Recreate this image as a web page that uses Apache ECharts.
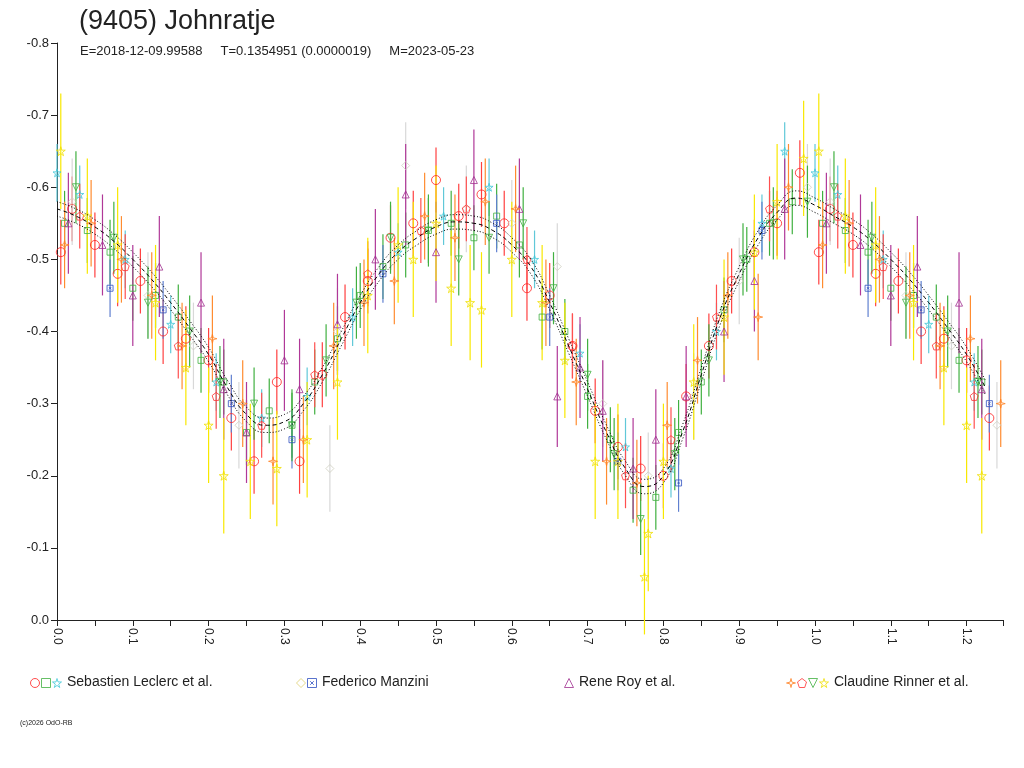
<!DOCTYPE html>
<html>
<head>
<meta charset="utf-8">
<script src="https://cdn.jsdelivr.net/npm/echarts@6/dist/echarts.min.js"></script>
<style>html,body{margin:0;padding:0;background:#fff;}#main{width:1024px;height:768px;}</style>
</head>
<body>
<div id="main"></div>
<script>
// 拟合曲线
var fitPh = [0,0.025,0.05,0.075,0.1,0.125,0.15,0.175,0.2,0.225,0.25,0.275,0.3,0.325,0.35,0.375,0.4,0.425,0.45,0.475,0.5,0.525,0.55,0.575,0.6,0.625,0.65,0.675,0.7,0.725,0.75,0.775,0.8,0.825,0.85,0.875,0.9,0.925,0.95,0.975,1.0];
var fitMags = [-0.570,-0.560,-0.545,-0.525,-0.500,-0.472,-0.440,-0.405,-0.368,-0.322,-0.285,-0.270,-0.275,-0.300,-0.340,-0.390,-0.440,-0.480,-0.510,-0.530,-0.545,-0.552,-0.550,-0.540,-0.520,-0.490,-0.440,-0.380,-0.320,-0.260,-0.210,-0.185,-0.200,-0.260,-0.340,-0.420,-0.480,-0.530,-0.565,-0.585,-0.575];

// observations: phase, mag
var lecCircPh = [0.005,0.02,0.05,0.08,0.11,0.14,0.17,0.20,0.23,0.26,0.29,0.32,0.35,0.38,0.41,0.44,0.47,0.50,0.53,0.56,0.59,0.62,0.65,0.68,0.71,0.74,0.77,0.80,0.83,0.86,0.89,0.92,0.95,0.98];
var lecCircMg = [-0.51,-0.57,-0.52,-0.48,-0.47,-0.40,-0.39,-0.36,-0.28,-0.22,-0.33,-0.22,-0.34,-0.42,-0.47,-0.53,-0.55,-0.61,-0.56,-0.59,-0.55,-0.46,-0.45,-0.38,-0.29,-0.24,-0.21,-0.20,-0.31,-0.38,-0.47,-0.51,-0.55,-0.62];
var lecSqPh = [0.01,0.04,0.07,0.10,0.13,0.16,0.19,0.22,0.25,0.28,0.31,0.34,0.37,0.40,0.43,0.46,0.49,0.52,0.55,0.58,0.61,0.64,0.67,0.70,0.73,0.76,0.79,0.82,0.85,0.88,0.91,0.94,0.97];
var lecSqMg = [-0.55,-0.54,-0.51,-0.46,-0.45,-0.42,-0.36,-0.33,-0.26,-0.29,-0.27,-0.33,-0.39,-0.45,-0.49,-0.52,-0.54,-0.55,-0.53,-0.56,-0.52,-0.42,-0.40,-0.31,-0.25,-0.18,-0.17,-0.26,-0.33,-0.43,-0.50,-0.55,-0.58];
var lecStarPh = [0.00,0.03,0.09,0.15,0.21,0.27,0.33,0.39,0.45,0.51,0.57,0.63,0.69,0.75,0.81,0.87,0.93,0.96];
var lecStarMg = [-0.62,-0.59,-0.50,-0.41,-0.33,-0.28,-0.31,-0.42,-0.51,-0.56,-0.60,-0.50,-0.37,-0.24,-0.21,-0.40,-0.55,-0.65];
var manzDiaPh = [0.02,0.12,0.18,0.24,0.36,0.37,0.46,0.54,0.60,0.66,0.72,0.78,0.84,0.90,0.99];
var manzDiaMg = [-0.58,-0.45,-0.38,-0.27,-0.21,-0.40,-0.63,-0.57,-0.55,-0.49,-0.30,-0.20,-0.31,-0.47,-0.60];
var manzBoxPh = [0.07,0.14,0.23,0.31,0.43,0.58,0.65,0.74,0.82,0.93];
var manzBoxMg = [-0.46,-0.43,-0.30,-0.25,-0.48,-0.55,-0.42,-0.22,-0.19,-0.54];
var royPh = [0.015,0.06,0.10,0.135,0.19,0.22,0.25,0.30,0.32,0.37,0.42,0.46,0.50,0.55,0.61,0.66,0.69,0.72,0.76,0.79,0.83,0.88,0.92,0.96];
var royMg = [-0.55,-0.52,-0.45,-0.49,-0.44,-0.32,-0.26,-0.36,-0.32,-0.41,-0.50,-0.59,-0.51,-0.61,-0.57,-0.31,-0.35,-0.29,-0.21,-0.25,-0.31,-0.40,-0.47,-0.57];
var rinCrossPh = [0.01,0.045,0.085,0.125,0.165,0.205,0.245,0.285,0.325,0.365,0.405,0.445,0.485,0.525,0.565,0.605,0.645,0.685,0.725,0.765,0.805,0.845,0.885,0.925,0.965];
var rinCrossMg = [-0.52,-0.55,-0.50,-0.45,-0.38,-0.39,-0.30,-0.22,-0.25,-0.38,-0.44,-0.47,-0.56,-0.53,-0.58,-0.57,-0.44,-0.33,-0.22,-0.19,-0.27,-0.36,-0.45,-0.42,-0.60];
var rinPentPh = [0.03,0.09,0.16,0.21,0.27,0.34,0.41,0.48,0.54,0.62,0.68,0.75,0.81,0.87,0.94];
var rinPentMg = [-0.56,-0.49,-0.38,-0.31,-0.27,-0.34,-0.48,-0.54,-0.57,-0.50,-0.38,-0.20,-0.25,-0.42,-0.57];
var rinTriPh = [0.025,0.075,0.12,0.175,0.215,0.26,0.31,0.355,0.395,0.44,0.49,0.53,0.57,0.615,0.655,0.70,0.735,0.77,0.815,0.86,0.905,0.945,0.99];
var rinTriMg = [-0.60,-0.53,-0.44,-0.40,-0.33,-0.30,-0.27,-0.36,-0.44,-0.53,-0.54,-0.50,-0.53,-0.55,-0.46,-0.34,-0.23,-0.14,-0.23,-0.36,-0.50,-0.55,-0.58];
var rinStarPh = [0.005,0.04,0.08,0.13,0.17,0.20,0.22,0.255,0.29,0.33,0.37,0.41,0.45,0.47,0.50,0.52,0.545,0.56,0.60,0.64,0.67,0.71,0.74,0.775,0.78,0.80,0.84,0.88,0.92,0.95,0.985];
var rinStarMg = [-0.65,-0.56,-0.52,-0.44,-0.35,-0.27,-0.20,-0.22,-0.21,-0.25,-0.33,-0.45,-0.52,-0.50,-0.55,-0.46,-0.44,-0.43,-0.50,-0.44,-0.36,-0.22,-0.22,-0.06,-0.12,-0.22,-0.33,-0.42,-0.51,-0.58,-0.64];

var xMax = 1.248;
var sym = {
  star: 'path://M50 0 L61 35 L98 35 L68 57 L79 91 L50 70 L21 91 L32 57 L2 35 L39 35 Z',
  pent: 'path://M50 0 L98 35 L79 91 L21 91 L2 35 Z',
  tri: 'path://M50 0 L100 90 L0 90 Z',
  triDown: 'path://M0 0 L100 0 L50 90 Z',
  cross: 'path://M50 0 L60 40 L100 50 L60 60 L50 100 L40 60 L0 50 L40 40 Z',
  box: 'path://M0 0 L100 0 L100 100 L0 100 Z M30 30 L70 70 M70 30 L30 70'
};
var groups = [
  {ph: lecCircPh, mg: lecCircMg, err: 0.045, color: '#ff2020', bar: '#ff4040', symbol: 'circle', size: 9},
  {ph: lecSqPh, mg: lecSqMg, err: 0.045, color: '#40b040', bar: '#40b040', symbol: 'rect', size: 6},
  {ph: lecStarPh, mg: lecStarMg, err: 0.04, color: '#40c8d8', bar: '#60c8d8', symbol: sym.star, size: 8},
  {ph: manzDiaPh, mg: manzDiaMg, err: 0.06, color: '#d0d0c0', bar: '#d8d8d8', symbol: 'diamond', size: 8},
  {ph: manzBoxPh, mg: manzBoxMg, err: 0.04, color: '#3050c0', bar: '#6080d0', symbol: sym.box, size: 6},
  {ph: royPh, mg: royMg, err: 0.07, color: '#a03090', bar: '#b03898', symbol: sym.tri, size: 7},
  {ph: rinCrossPh, mg: rinCrossMg, err: 0.06, color: '#ff8020', bar: '#ff8c30', symbol: sym.cross, size: 9},
  {ph: rinPentPh, mg: rinPentMg, err: 0.045, color: '#ff3030', bar: '#ff5050', symbol: sym.pent, size: 8},
  {ph: rinTriPh, mg: rinTriMg, err: 0.05, color: '#40b040', bar: '#40b040', symbol: sym.triDown, size: 7},
  {ph: rinStarPh, mg: rinStarMg, err: 0.08, color: '#f0e000', bar: '#f8e800', symbol: sym.star, size: 9}
];

function pts(g) {
  var out = [];
  for (var i = 0; i < g.ph.length; i++) {
    out.push([g.ph[i], g.mg[i], g.err]);
    if (g.ph[i] + 1 <= xMax) out.push([g.ph[i] + 1, g.mg[i], g.err]);
  }
  return out;
}

var series = [];
groups.forEach(function (g) {
  series.push({
    type: 'custom', data: pts(g), z: 2, silent: true,
    renderItem: function (params, api) {
      var x = api.value(0), y = api.value(1), e = api.value(2);
      var a = api.coord([x, y - e]), b = api.coord([x, y + e]);
      return {type: 'line', shape: {x1: a[0], y1: a[1], x2: b[0], y2: b[1]}, style: {stroke: g.bar, lineWidth: 1.2}};
    }
  });
});
groups.forEach(function (g) {
  series.push({
    type: 'scatter', data: pts(g).map(function (p) { return [p[0], p[1]]; }), z: 3,
    symbol: g.symbol, symbolSize: g.size,
    itemStyle: {color: 'rgba(0,0,0,0)', borderColor: g.color, borderWidth: 1}
  });
});

var fit = [], fitHi = [], fitLo = [];
for (var i = 0; i < fitPh.length; i++) {
  fit.push([fitPh[i], fitMags[i]]);
}
for (var j = 1; j < fitPh.length; j++) {
  if (fitPh[j] + 1 <= xMax + 0.001) fit.push([fitPh[j] + 1, fitMags[j]]);
}
fit.forEach(function (p) { fitHi.push([p[0], p[1] - 0.01]); fitLo.push([p[0], p[1] + 0.01]); });
[fit, fitHi, fitLo].forEach(function (d, k) {
  series.push({
    type: 'line', data: d, smooth: true, symbol: 'none', z: 4, silent: true,
    lineStyle: {color: '#000', width: 1, type: k === 0 ? [4, 3] : [1, 2]}
  });
});

var legendItems = [
  {x: 30, syms: [['circle', '#ff2020'], ['rect', '#40b040'], [sym.star, '#40c8d8']], text: 'Sebastien Leclerc et al.'},
  {x: 296, syms: [['diamond', '#e0d070'], [sym.box, '#3050c0']], text: 'Federico Manzini'},
  {x: 564, syms: [[sym.tri, '#a03090']], text: 'Rene Roy et al.'},
  {x: 786, syms: [[sym.cross, '#ff8020'], [sym.pent, '#ff3030'], [sym.triDown, '#40b040'], [sym.star, '#f0e000']], text: 'Claudine Rinner et al.'}
];
var graphics = [];
var legendSyms = [];
legendItems.forEach(function (it) {
  it.syms.forEach(function (s, j) {
    legendSyms.push({value: [it.x + 5 + j * 11, 683], symbol: s[0], itemStyle: {color: 'rgba(0,0,0,0)', borderColor: s[1], borderWidth: 1}});
  });
  graphics.push({type: 'text', left: it.x + it.syms.length * 11 + 4, top: 675,
    style: {text: it.text, fill: '#222', font: '14px "Liberation Sans", Arial, sans-serif'}});
});
graphics.push({type: 'text', left: 20, top: 720, style: {text: '(c)2026 OdO-RB', fill: '#222', font: '7px "Liberation Sans", sans-serif'}});
series.push({type: 'scatter', xAxisIndex: 1, yAxisIndex: 1, data: legendSyms, symbolSize: 9, silent: true});

var chart = echarts.init(document.getElementById('main'));
chart.setOption({
  animation: false,
  backgroundColor: '#fff',
  title: [
    {text: '(9405) Johnratje', left: 74, top: 3, textStyle: {fontFamily: 'Liberation Sans', fontSize: 27, fontWeight: 'normal', color: '#222'}},
    {text: 'E=2018-12-09.99588     T=0.1354951 (0.0000019)     M=2023-05-23', left: 75, top: 40,
      textStyle: {fontFamily: 'Liberation Sans', fontSize: 13, fontWeight: 'normal', color: '#222'}}
  ],
  grid: [
    {left: 57, right: 21, top: 43, bottom: 148},
    {left: 0, right: 0, top: 0, bottom: 0}
  ],
  xAxis: [
    {type: 'value', min: 0, max: xMax, interval: 0.05,
      axisLine: {lineStyle: {color: '#222'}}, axisTick: {length: 6, lineStyle: {color: '#222'}},
      splitLine: {show: false},
      axisLabel: {rotate: -90, color: '#222', fontFamily: 'Liberation Sans', fontSize: 12,
        formatter: function (v) { var r = Math.round(v * 100); return r % 10 === 0 ? (r / 100).toFixed(1) : ''; }}},
    {type: 'value', gridIndex: 1, min: 0, max: 1024, show: false}
  ],
  yAxis: [
    {type: 'value', min: -0.8, max: 0, interval: 0.1, inverse: true,
      axisLine: {show: true, lineStyle: {color: '#222'}}, axisTick: {show: true, length: 6, lineStyle: {color: '#222'}},
      splitLine: {show: false},
      axisLabel: {color: '#222', fontFamily: 'Liberation Sans', fontSize: 13, formatter: function (v) { return v === 0 ? '0.0' : v.toFixed(1); }}},
    {type: 'value', gridIndex: 1, min: 0, max: 768, inverse: true, show: false}
  ],
  graphic: graphics,
  series: series
});
</script>
</body>
</html>
